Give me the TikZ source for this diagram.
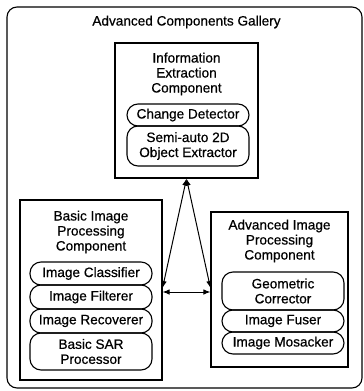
\documentclass[tikz,border=0pt]{standalone}
\usepackage{fontspec}
\setmainfont[FakeBold=0.6]{Liberation Sans}
\usetikzlibrary{arrows.meta}
\tikzset{
  every node/.style={font=\fontsize{13.6}{15}\selectfont, inner sep=0pt},
  compbox/.style={draw, line width=1.1pt, rectangle},
  pill/.style={draw, line width=1.1pt, rounded corners=11pt, align=center, minimum width=122pt},
  ttl/.style={align=center},
  conn/.style={line width=1pt, {Latex[length=7pt,width=5.5pt]}-{Latex[length=7pt,width=5.5pt]}}
}
\begin{document}
\begin{tikzpicture}[x=1pt,y=-1pt]
\useasboundingbox (0,0) rectangle (364,391);
\draw[line width=1.1pt, rounded corners=10pt] (7,7) rectangle (362,388);
\node (gal) at (186.5,22) {Advanced Components Gallery};

% top box
\node[compbox, minimum width=143pt, minimum height=135pt] (ie) at (186.5,110.5) {};
\node[ttl] (iet) at (186.5,74) {Information\\Extraction\\Component};
\node[pill, minimum height=22pt] (cd) at (188,115) {Change Detector};
\node[pill, minimum height=40pt] (so) at (188,146) {Semi-auto 2D\\Object Extractor};

% left box
\node[compbox, minimum width=142pt, minimum height=180pt] (bip) at (91,290) {};
\node[ttl] (bipt) at (91,232) {Basic Image\\Processing\\Component};
\node[pill, minimum height=23pt] (ic) at (91,273.5) {Image Classifier};
\node[pill, minimum height=24pt] (if) at (91,297) {Image Filterer};
\node[pill, minimum height=24pt] (ir) at (91,321) {Image Recoverer};
\node[pill, minimum height=37pt] (bs) at (91,351.5) {Basic SAR\\Processor};

% right box
\node[compbox, minimum width=137pt, minimum height=155pt] (aip) at (279.5,289.5) {};
\node[ttl] (aipt) at (279.5,241) {Advanced Image\\Processing\\Component};
\node[pill, minimum height=38pt] (gc) at (283,291) {Geometric\\Corrector};
\node[pill, minimum height=22pt] (fu) at (283,321) {Image Fuser};
\node[pill, minimum height=22pt] (mo) at (283,343) {Image Mosacker};

% connectors
\coordinate (ya) at (0,288);
\coordinate (yb) at (0,292);
\coordinate (lend) at (bip.east |- ya);
\coordinate (rend) at (aip.west |- ya);
\coordinate (lh) at (bip.east |- yb);
\coordinate (rh) at (aip.west |- yb);
\draw[conn] (ie.south) -- (lend);
\draw[conn] (ie.south) -- (rend);
\draw[conn] (lh) -- (rh);
\end{tikzpicture}
\end{document}
